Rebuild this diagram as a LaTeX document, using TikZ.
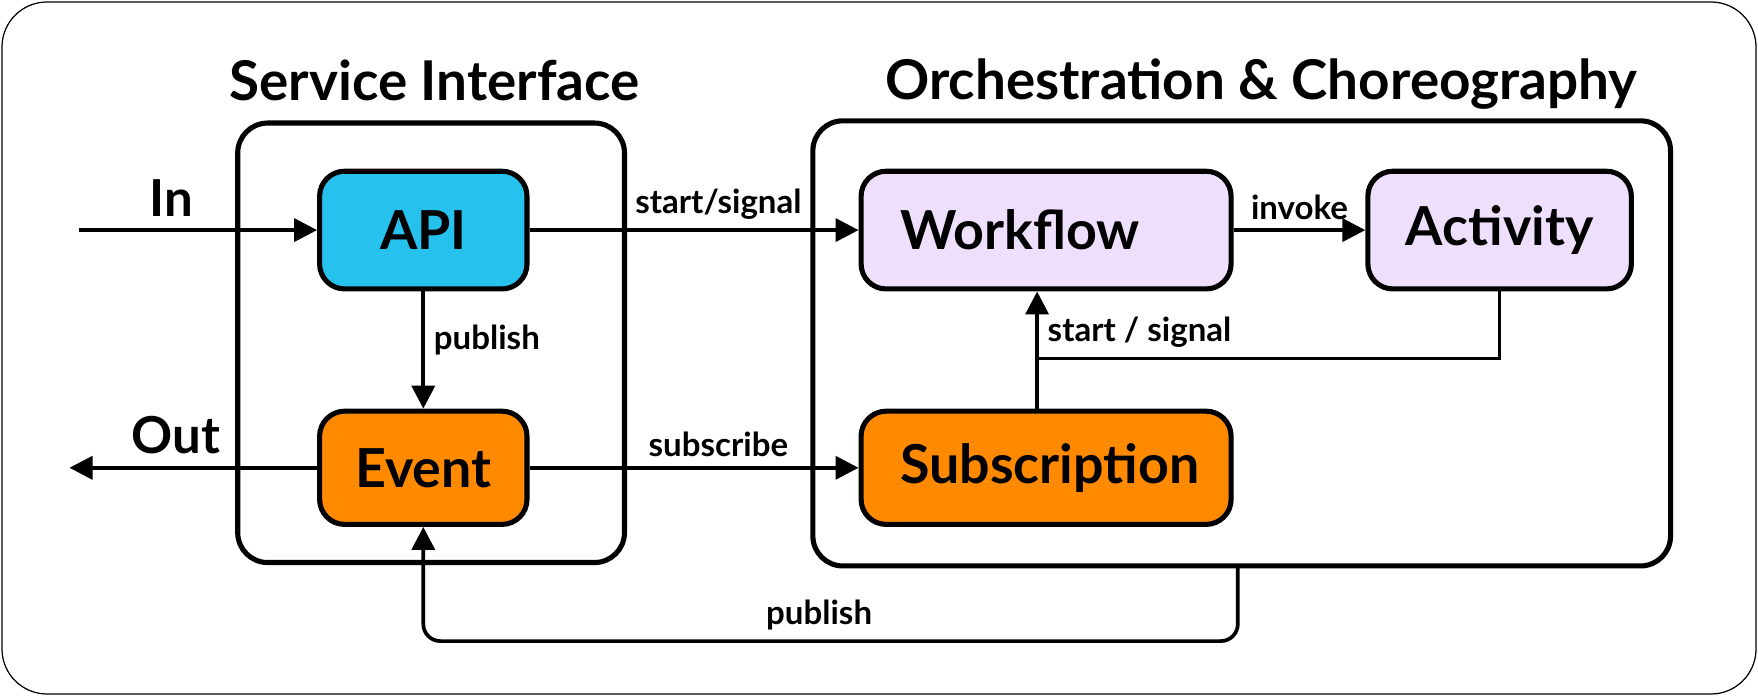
\documentclass[tikz,border=0pt]{standalone}
\usepackage{fontspec}
\setmainfont{Lato}
\usetikzlibrary{arrows.meta}
\definecolor{apiColor}{RGB}{38,193,237}
\definecolor{eventColor}{RGB}{255,138,0}
\definecolor{flowColor}{RGB}{238,223,252}

\begin{document}
\begin{tikzpicture}[
    block/.style={draw, line width=1.45pt, rounded corners=0.25cm, inner sep=0pt,
        font=\fontsize{15.3}{18}\selectfont\bfseries},
    group/.style={draw, line width=1.45pt, rounded corners=0.3cm, inner sep=0pt},
    title/.style={font=\fontsize{15.6}{18}\selectfont\bfseries},
    side/.style={font=\fontsize{14.5}{17}\selectfont\bfseries},
    flow/.style={line width=1.05pt, -{Triangle[length=0.23cm, width=0.23cm]}},
    link/.style={line width=1.05pt},
    tag/.style={font=\fontsize{9.4}{11}\selectfont\bfseries, inner sep=2.5pt}
]
    \useasboundingbox (0,0) rectangle (17.58,6.96);
    \draw[line width=0.35pt, rounded corners=0.45cm] (0.02,0.02) rectangle (17.56,6.94);

    % Groups
    \node[group, minimum width=3.868cm, minimum height=4.395cm] (service) at (4.311,3.532) {};
    \node[group, minimum width=8.577cm, minimum height=4.451cm] (orch) at (12.417,3.526) {};
    \node[title] (serviceTitle) at (4.345,6.155) {Service Interface};
    \node[title] (orchTitle) at (12.614,6.122) {Orchestration \& Choreography};

    % Blocks
    \node[block, fill=apiColor, minimum width=2.074cm, minimum height=1.177cm] (api) at (4.233,4.659) {API};
    \node[block, fill=eventColor, minimum width=2.074cm, minimum height=1.132cm] (event) at (4.233,2.282) {Event};
    \node[block, fill=flowColor, minimum width=3.70cm, minimum height=1.177cm,
        text width=2.915cm, align=left] (workflow) at (10.461,4.659) {Workflow};
    \node[block, fill=flowColor, minimum width=2.635cm, minimum height=1.177cm] (activity) at (14.996,4.659) {Activity};
    \node[block, fill=eventColor, minimum width=3.70cm, minimum height=1.132cm,
        text width=2.915cm, align=left] (subscription) at (10.461,2.282) {Subscription};

    % Free ends
    \coordinate (inEnd) at (0.785,4.659);
    \coordinate (outEnd) at (0.695,2.282);
    \coordinate (merge) at (10.371,3.375);
    \coordinate (pubStart) at (12.378,1.301);
    \coordinate (low) at (0,0.549);

    % Connectors
    \draw[flow] (inEnd) -- node[above, pos=0.39, side] {In} (api.west);
    \draw[flow] (event.west) -- node[above, pos=0.57, side] {Out} (outEnd);
    \draw[flow] (api.east) -- node[tag, above, pos=0.574] {start/signal} (workflow.west);
    \draw[flow] (api.south) -- node[tag, right, pos=0.41] {publish} (event.north);
    \draw[flow] (event.east) -- node[tag, above, pos=0.574] {subscribe} (subscription.west);
    \draw[flow] (workflow.east) -- node[tag, above] {invoke} (activity.west);
    \draw[link] (activity.south) |- (merge) node[tag, above right] {start / signal};
    \draw[flow] (subscription.north -| merge) -- (workflow.south -| merge);
    \draw[flow, rounded corners=0.17cm] (pubStart) -- (pubStart |- low)
        -- node[tag, above, pos=0.514] {publish} (event.south |- low) -- (event.south);
\end{tikzpicture}
\end{document}
